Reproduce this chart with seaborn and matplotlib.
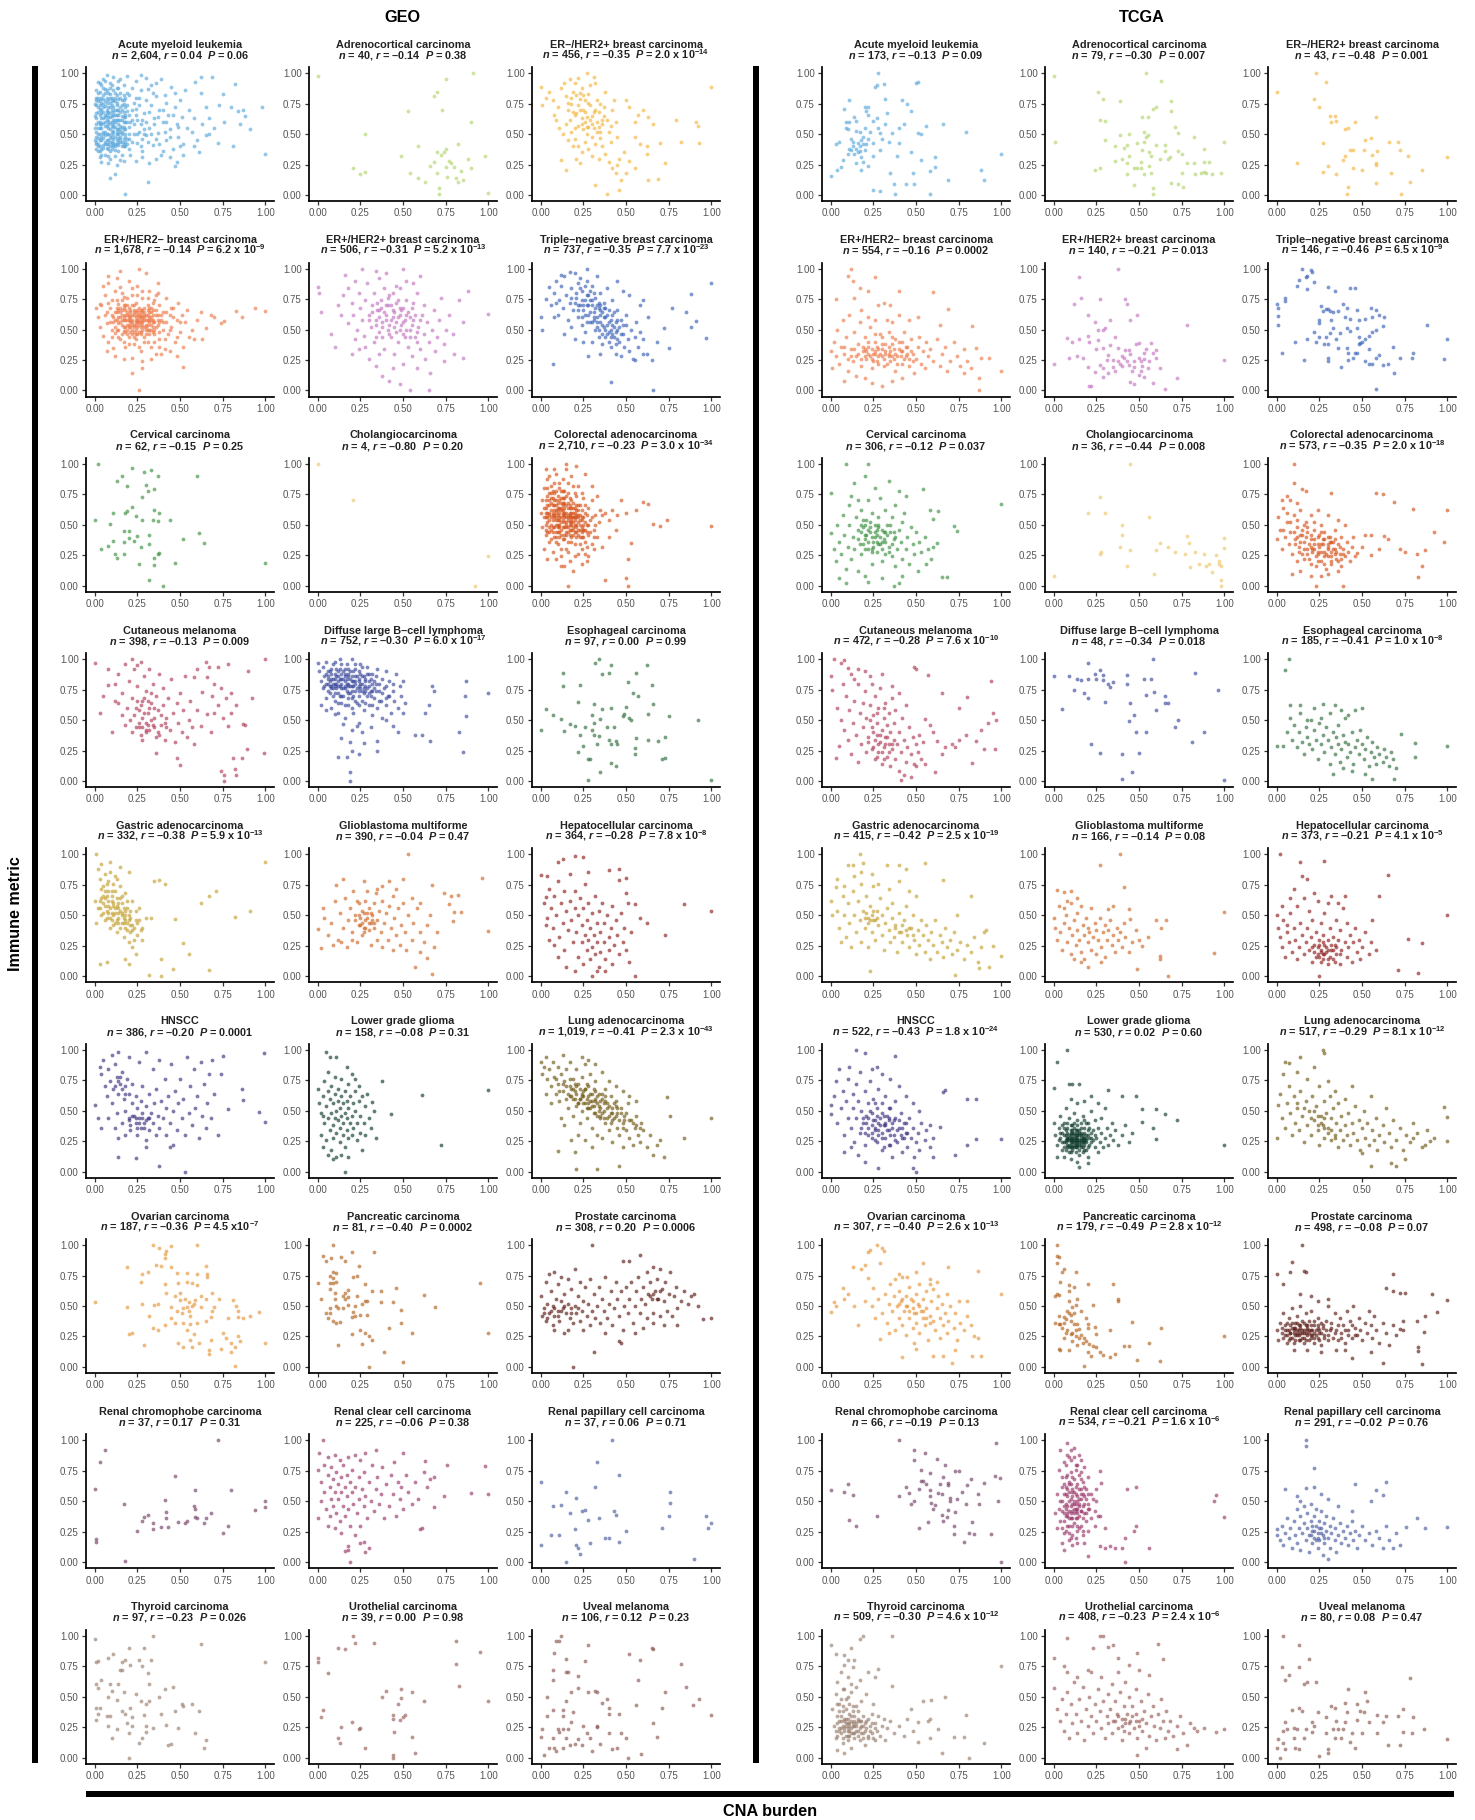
import matplotlib
matplotlib.use("Agg")
import matplotlib.pyplot as plt
from matplotlib.patches import Rectangle
import pandas as pd
import seaborn as sns

# ---------------------------------------------------------------------------
# Data
# ---------------------------------------------------------------------------
cancer_types = [
    "Acute myeloid leukemia", "Adrenocortical carcinoma", "ER–/HER2+ breast carcinoma",
    "ER+/HER2– breast carcinoma", "ER+/HER2+ breast carcinoma", "Triple–negative breast carcinoma",
    "Cervical carcinoma", "Cholangiocarcinoma", "Colorectal adenocarcinoma",
    "Cutaneous melanoma", "Diffuse large B–cell lymphoma", "Esophageal carcinoma",
    "Gastric adenocarcinoma", "Glioblastoma multiforme", "Hepatocellular carcinoma",
    "HNSCC", "Lower grade glioma", "Lung adenocarcinoma",
    "Ovarian carcinoma", "Pancreatic carcinoma", "Prostate carcinoma",
    "Renal chromophobe carcinoma", "Renal clear cell carcinoma", "Renal papillary cell carcinoma",
    "Thyroid carcinoma", "Urothelial carcinoma", "Uveal melanoma",
]

palette = [
    "#5BA8DC", "#B3D46E", "#F4B63F",
    "#EE7A4A", "#C275C0", "#3A62B8",
    "#3E9142", "#EEC86A", "#D6541C",
    "#B03D58", "#3B4A9C", "#2F6E3C",
    "#C3A030", "#D0692A", "#8E1E1E",
    "#3E327E", "#0E3A2C", "#705A15",
    "#E5963A", "#B0621E", "#5A1A14",
    "#744068", "#99386A", "#4A5C9E",
    "#9A7E6E", "#9A5E5A", "#8A5650",
]

geo_n = ["2,604", "40", "456", "1,678", "506", "737", "62", "4", "2,710",
         "398", "752", "97", "332", "390", "364", "386", "158", "1,019",
         "187", "81", "308", "37", "225", "37", "97", "39", "106"]
geo_r = ["0.04", "–0.14", "–0.35", "–0.14", "–0.31", "–0.35", "–0.15", "–0.80", "–0.23",
         "–0.13", "–0.30", "0.00", "–0.38", "–0.04", "–0.28", "–0.20", "–0.08", "–0.41",
         "–0.36", "–0.40", "0.20", "0.17", "–0.06", "0.06", "–0.23", "0.00", "0.12"]
geo_p = ["0.06", "0.38", "2.0 x 10^-14", "6.2 x 10^-9", "5.2 x 10^-13", "7.7 x 10^-23",
         "0.25", "0.20", "3.0 x 10^-34", "0.009", "6.0 x 10^-17", "0.99",
         "5.9 x 10^-13", "0.47", "7.8 x 10^-8", "0.0001", "0.31", "2.3 x 10^-43",
         "4.5 x10^-7", "0.0002", "0.0006", "0.31", "0.38", "0.71", "0.026", "0.98", "0.23"]

tcga_n = ["173", "79", "43", "554", "140", "146", "306", "36", "573",
          "472", "48", "185", "415", "166", "373", "522", "530", "517",
          "307", "179", "498", "66", "534", "291", "509", "408", "80"]
tcga_r = ["–0.13", "–0.30", "–0.48", "–0.16", "–0.21", "–0.46", "–0.12", "–0.44", "–0.35",
          "–0.28", "–0.34", "–0.41", "–0.42", "–0.14", "–0.21", "–0.43", "0.02", "–0.29",
          "–0.40", "–0.49", "–0.08", "–0.19", "–0.21", "–0.02", "–0.30", "–0.23", "0.08"]
tcga_p = ["0.09", "0.007", "0.001", "0.0002", "0.013", "6.5 x 10^-9", "0.037", "0.008",
          "2.0 x 10^-18", "7.6 x 10^-10", "0.018", "1.0 x 10^-8", "2.5 x 10^-19", "0.08",
          "4.1 x 10^-5", "1.8 x 10^-24", "0.60", "8.1 x 10^-12", "2.6 x 10^-13",
          "2.8 x 10^-12", "0.07", "0.13", "1.6 x 10^-6", "0.76", "4.6 x 10^-12",
          "2.4 x 10^-6", "0.47"]

# Samples per panel as "cna,immune" pairs in hundredths
geo_points = [
    # Acute myeloid leukemia
    "1,42 2,55 1,63 3,71 2,80 4,48 3,36 5,59 4,67 6,77 5,88 2,93 7,45 6,52 8,61 7,70 9,83 8,38 10,57 9,49 "
    "11,66 10,74 12,42 11,53 13,62 12,80 14,47 13,70 15,57 14,36 16,65 15,44 17,75 16,52 18,60 17,40 19,69 "
    "18,48 20,56 19,84 3,31 6,33 9,30 12,32 15,29 2,47 4,58 6,64 8,72 10,41 12,60 14,54 16,78 18,66 20,46 "
    "1,74 3,85 5,95 7,99 9,92 11,97 13,88 15,95 17,90 19,98 4,27 8,26 13,25 17,28 21,33 22,62 23,50 24,71 "
    "25,43 26,80 27,58 28,36 29,67 30,49 31,87 32,55 33,74 34,41 35,63 36,92 37,51 38,70 39,33 40,60 41,82 "
    "42,45 43,66 44,54 45,89 46,38 47,72 48,58 49,48 50,78 51,64 52,42 53,86 54,55 22,88 24,94 27,99 30,96 "
    "33,90 36,81 39,95 42,76 24,28 28,31 32,26 36,30 40,36 44,31 48,27 52,33 55,70 57,52 58,63 60,45 62,84 "
    "63,58 65,72 67,50 59,93 62,97 69,97 73,74 75,83 80,72 84,69 88,65 82,91 91,54 67,63 65,49 58,40 61,35 "
    "47,24 31,11 18,1 12,17 9,14 100,34 98,72 70,55 72,43 76,60 85,58 81,40 87,70 2,40 5,52 7,62 9,44 "
    "11,58 13,50 15,68 17,56 19,42 1,52 3,60 5,72 7,80 9,64 11,46 13,76 15,48 17,64 "
    "0,45 0,55 0,65 0,75 1,38 1,58 1,86 2,50 2,68 2,72 2,36 3,45 3,55 3,78 3,66 4,38 4,63 4,80 4,90 5,50 "
    "5,41 5,68 5,79 6,57 6,44 6,73 6,87 7,39 7,50 7,66 7,76 8,45 8,55 8,68 8,84 9,36 9,59 9,76 9,88 10,44 "
    "10,52 10,65 10,80 11,40 11,56 11,72 11,86 12,48 12,66 12,77 13,42 13,54 13,82 14,44 14,58 14,66 14,88 "
    "15,52 15,62 15,80 16,40 16,56 16,70 17,46 17,60 17,82 18,54 18,72 18,40 19,60 19,46 19,74 20,50 20,66 "
    "20,82 1,80 3,92 6,94 10,90 14,94 4,33 8,32 12,37 16,33 20,38 22,44 23,58 24,66 25,50 26,74 27,40 28,62 "
    "29,54 30,78 31,44 32,68 33,50 34,84 35,58 36,46 37,64 38,42 40,70 41,52 42,60 44,48 46,66 47,84 49,56 "
    "50,40 22,70 24,80 26,52 28,46 30,60 21,60 23,76 25,62 27,86 29,50 "
    "1,44 1,48 1,67 1,78 2,42 2,60 2,77 2,84 3,40 3,50 3,58 3,74 4,45 4,55 4,70 4,76 5,39 5,47 5,63 5,75 "
    "5,82 6,42 6,49 6,60 6,66 6,84 7,42 7,57 7,68 7,86 8,42 8,50 8,58 8,64 8,78 9,40 9,47 9,54 9,67 9,72 "
    "9,80 10,38 10,48 10,60 10,70 10,77 11,43 11,50 11,62 11,68 11,78 12,40 12,56 12,62 12,70 12,84 13,45 "
    "13,52 13,66 13,74 14,41 14,50 14,62 14,70 14,79 15,46 15,54 15,72 15,84 16,44 16,50 16,62 16,74 17,42 "
    "17,54 17,68 17,78 18,44 18,50 18,64 18,80",
    # Adrenocortical carcinoma
    "0,98 91,100 75,95 70,85 68,81 73,70 53,69 28,50 90,60 82,42 75,38 74,35 70,35 59,40 49,32 98,32 "
    "77,28 68,27 80,23 90,22 21,22 28,19 25,17 54,18 59,14 63,11 70,18 76,15 82,11 85,12 81,14 71,6 71,1 "
    "100,2 78,26 75,23 72,33 84,20 66,24 88,30",
    # ER-/HER2+ breast carcinoma
    "0,89 1,74 3,80 5,85 7,78 8,66 10,72 12,88 14,92 15,81 16,70 17,62 18,75 19,85 20,92 21,67 22,57 23,79 "
    "24,88 25,70 26,60 27,50 28,83 29,74 30,65 31,55 32,92 33,78 34,68 35,47 36,58 37,72 38,85 39,62 40,52 "
    "41,44 42,70 43,78 44,60 45,48 18,52 20,46 22,40 24,35 26,44 28,38 30,32 32,42 34,30 36,40 38,34 40,27 "
    "42,22 44,18 45,25 46,30 13,50 15,58 16,45 19,40 21,30 23,26 12,29 15,21 25,54 27,64 29,90 31,97 27,100 "
    "22,96 17,95 23,84 11,55 9,62 50,78 52,72 55,60 57,66 60,70 63,64 66,58 55,48 58,42 62,40 49,35 52,28 "
    "47,12 46,4 39,1 32,8 100,89 79,62 91,60 92,57 93,43 82,44 70,43 73,26 62,34 69,13 63,12 55,22 50,18 "
    "35,75 20,55 26,78 33,60 21,82 30,48 37,65 24,63 28,56 19,68 35,52 41,57 16,76 "
    "18,80 20,66 22,74 24,58 26,68 28,76 30,58 32,70 34,56 36,62 25,82 29,62 23,70 27,56 31,68 33,52",
    # ER+/HER2- breast carcinoma
    "2,60 3,52 4,70 5,45 6,78 6,62 7,55 8,88 8,40 9,68 10,50 10,74 11,60 11,35 12,82 12,47 13,64 13,92 "
    "14,55 14,71 15,42 15,85 16,58 16,66 17,49 17,77 18,36 18,62 19,54 19,70 20,90 20,44 21,58 21,66 22,50 "
    "22,78 23,38 23,62 24,54 24,72 25,46 25,86 26,60 26,68 27,32 27,52 28,76 28,58 29,44 29,64 30,96 30,54 "
    "31,70 31,40 32,60 32,82 33,50 33,36 34,66 34,56 35,74 35,46 36,62 36,30 37,54 37,88 38,42 38,70 39,58 "
    "40,50 40,64 41,34 42,76 42,56 43,46 44,62 45,52 46,68 47,40 48,58 49,72 50,48 51,62 52,36 53,56 54,66 "
    "55,44 12,52 18,48 22,56 26,54 30,62 34,52 24,64 20,60 28,50 16,74 32,68 24,42 10,62 36,78 15,98 8,94 "
    "5,86 26,100 3,71 1,68 7,32 12,28 17,26 22,27 28,24 33,26 39,30 44,32 48,28 57,50 60,58 62,64 58,42 "
    "100,65 94,68 83,65 76,57 74,55 70,60 65,51 63,42 52,19 28,18 26,0 22,14 68,62 86,60 19,58 23,66 27,60 "
    "21,52 25,56 29,58 31,50 17,68 13,58 33,64 "
    "11,56 12,64 13,50 14,60 15,68 16,54 17,60 18,70 19,50 20,58 21,64 22,46 23,70 24,58 25,62 26,48 27,66 "
    "28,54 29,60 30,46 31,58 32,64 33,54 34,62 35,50 36,66 37,58 38,48 39,62 40,56 14,44 17,40 20,38 23,44 "
    "26,36 29,40 32,46 35,40 38,36 13,74 16,80 19,76 22,84 25,78 28,82 31,76 34,72 37,80 18,58 20,52 22,62 "
    "24,50 26,62 28,66 30,52 32,56 34,48 21,56 23,52 25,58 27,56 29,62 19,64 17,52 15,60 33,58 31,66 27,46 "
    "23,48 9,56 10,44 8,72 7,64 41,42 42,64 44,50 46,60 48,44 50,56 45,68 "
    "12,58 13,68 14,50 14,66 15,56 15,64 16,46 16,62 17,58 17,70 18,52 18,66 19,46 19,62 20,54 20,68 21,48 "
    "21,60 22,58 22,70 23,54 23,64 24,46 24,60 25,52 25,66 26,56 26,64 27,48 27,62 28,56 28,64 29,52 29,68 "
    "30,50 30,58 31,54 31,62 32,50 32,58 33,60 33,68 34,58 35,56 36,52 37,62 38,56 24,56 26,58 22,54 20,62 "
    "28,60",
    # ER+/HER2+ breast carcinoma
    "0,85 1,80 2,64 8,46 10,36 16,95 26,100 50,100 88,82 83,74 100,63 85,56 85,27 74,24 65,0 54,0 48,5 "
    "12,70 14,62 15,78 18,84 18,55 20,72 21,62 22,90 23,50 24,80 25,68 26,58 27,45 28,74 29,88 30,62 31,52 "
    "32,70 33,40 33,80 34,58 35,66 36,48 36,92 37,74 38,56 39,34 39,84 40,62 41,50 41,70 42,78 43,44 43,58 "
    "44,66 45,30 45,52 46,72 47,60 47,40 48,50 48,84 49,66 50,56 50,22 51,44 52,62 52,74 53,36 54,50 55,28 "
    "55,68 56,58 57,44 58,80 58,18 59,52 60,34 61,62 62,70 62,46 63,26 64,56 65,40 66,14 67,50 68,66 69,32 "
    "70,44 71,58 72,76 74,38 75,50 77,62 79,46 80,30 30,26 34,20 38,12 42,8 44,18 36,30 24,34 22,42 20,30 "
    "28,36 46,86 52,90 56,88 60,94 40,96 34,98 "
    "30,58 32,64 34,54 35,72 36,60 37,68 38,52 39,64 40,58 41,76 42,54 43,70 44,60 45,64 46,56 47,74 48,62 "
    "49,54 50,68 51,58 52,50 53,64 54,60 55,54 56,72 57,62 58,48 60,58 38,44 42,46 46,48 50,46 54,44 58,40 "
    "44,80 40,70 36,66 34,44 48,68",
    # Triple-negative breast carcinoma
    "0,60 1,50 7,22 3,75 5,85 6,70 8,80 9,90 10,62 11,74 12,86 13,68 14,94 15,78 16,58 17,72 18,84 19,66 "
    "20,96 21,76 22,60 22,88 23,70 24,54 24,82 25,66 26,74 26,48 27,90 28,62 28,78 29,56 30,70 30,86 31,64 "
    "32,50 32,76 33,60 33,94 34,68 34,44 35,56 35,80 36,64 36,38 37,52 37,72 38,60 39,46 39,84 40,56 40,66 "
    "41,36 41,50 42,62 42,74 43,44 44,56 44,30 45,50 45,66 46,40 47,58 47,28 48,46 49,36 50,54 50,62 51,42 "
    "52,32 53,50 54,26 55,44 56,56 57,36 58,48 60,42 62,30 55,25 41,7 65,25 66,0 75,35 68,40 72,51 77,68 "
    "88,79 100,88 85,64 91,57 88,52 97,43 60,30 18,52 14,46 25,40 20,42 30,40 28,28 35,30 23,92 27,100 "
    "17,97 12,95 9,72 8,60 63,60 58,70 52,78 60,74 48,82 45,90 27,70 31,58 35,66 29,74 33,52 38,68 "
    "18,76 20,72 21,80 22,66 23,84 24,74 25,70 26,62 27,78 28,70 29,64 30,74 31,60 32,68 33,56 34,72 35,62 "
    "36,54 37,68 38,50 39,62 40,48 41,58 42,54 43,64 44,48 45,58 46,52 47,46 48,54 26,86 29,82 31,80 33,70 "
    "35,70 37,60 39,54 41,44 43,52 45,42 24,60 22,70 27,56 30,56 34,50 36,46 38,44 40,40 42,46 44,38",
    # Cervical carcinoma
    "2,100 22,97 29,93 33,95 37,90 16,90 13,86 60,90 19,82 30,83 35,79 31,78 28,73 22,65 19,61 18,60 11,60 "
    "24,57 35,62 38,60 44,54 34,54 37,53 28,54 0,54 9,51 20,45 17,45 25,41 32,42 61,43 52,38 64,35 11,37 "
    "17,36 23,37 32,34 8,33 4,30 38,27 37,26 12,26 13,23 17,26 35,23 26,18 35,17 47,19 100,19 32,5 40,0 "
    "20,39 27,32",
    # Cholangiocarcinoma
    "0,100 21,70 100,24 92,0",
    # Colorectal adenocarcinoma
    "0,60 1,48 1,70 2,56 2,80 3,42 3,64 4,52 4,74 4,88 5,36 5,60 6,46 6,68 6,82 7,54 7,28 8,62 8,76 8,40 "
    "9,50 9,70 9,92 10,58 10,34 11,64 11,80 11,44 12,52 12,72 12,24 13,60 13,88 13,38 14,48 14,68 14,78 "
    "15,56 15,30 15,96 16,44 16,64 16,84 17,52 17,72 17,20 18,40 18,60 18,90 19,48 19,68 20,56 20,34 20,76 "
    "21,44 21,62 22,52 22,82 22,26 23,40 23,66 24,56 24,30 25,46 25,72 26,60 26,36 27,50 27,20 28,64 28,42 "
    "29,54 30,34 30,70 31,46 32,58 33,40 34,52 35,62 15,100 21,98 26,92 30,82 33,74 3,96 5,90 8,96 14,16 "
    "19,12 24,18 28,24 31,30 2,30 4,22 9,22 12,16 36,58 38,60 40,54 42,62 45,58 47,70 50,60 56,62 60,69 "
    "63,67 66,51 70,49 74,54 100,49 53,35 51,22 50,6 51,0 38,5 16,0 40,40 36,32 44,46 5,66 7,58 9,62 11,54 "
    "13,66 15,50 17,60 19,56 21,50 23,58 10,48 14,58 18,52 12,62 16,56 "
    "3,50 4,60 4,44 5,70 5,54 6,62 6,38 7,48 7,72 8,56 8,66 9,44 9,60 10,68 10,50 11,56 11,40 12,64 12,46 "
    "13,54 13,72 14,42 14,60 15,66 15,48 16,58 16,36 17,64 17,46 18,54 18,70 19,42 19,60 20,50 20,64 21,56 "
    "21,40 22,46 22,66 23,54 23,34 24,48 24,62 25,40 25,56 26,46 26,66 27,58 27,32 28,50 29,44 30,56 31,40 "
    "32,50 11,84 13,78 16,76 19,82 8,84 6,76 21,74 24,76 12,30 16,28 20,24 24,40 26,26 9,36 5,44 3,56 2,64 "
    "18,46 14,52 10,62 22,58 17,56 13,58 11,48 15,44 19,52 7,66 9,54 21,66 25,50 "
    "3,46 3,60 3,70 4,56 4,66 4,80 5,48 5,58 5,76 6,50 6,56 6,72 7,44 7,60 7,78 8,48 8,58 8,70 9,40 9,56 "
    "9,66 9,78 10,44 10,54 10,64 10,74 11,50 11,60 11,70 12,42 12,56 12,68 12,78 13,48 13,62 13,68 14,38 "
    "14,56 14,64 14,72 15,42 15,52 15,60 15,74 16,48 16,54 16,68 17,42 17,50 17,58 17,66 18,36 18,50 18,56 "
    "18,64 19,46 19,56 19,64 20,44 20,54 20,60 21,48 21,58 22,42 22,56 22,62 23,46 23,50 24,44 24,54 25,46 "
    "26,52 27,44",
    # Cutaneous melanoma
    "0,97 100,100 99,23 89,26 86,19 81,19 82,10 76,5 76,0 83,5 74,8 50,13 48,19 36,23 10,40 3,56 5,70 8,79 "
    "8,92 90,90 78,96 72,94 67,94 92,68 87,47 88,46 66,85 70,80 74,76 69,70 77,68 80,72 83,62 72,62 66,55 "
    "70,56 75,52 80,56 78,45 68,40 62,45 60,58 63,73 58,85 60,92 65,98 14,88 16,72 18,96 19,60 20,82 21,50 "
    "22,68 23,92 24,44 25,78 26,58 27,38 27,98 28,66 29,86 30,48 30,74 31,56 32,42 32,92 33,64 34,80 35,52 "
    "36,36 36,70 37,58 38,88 39,46 40,62 40,76 41,34 42,52 43,68 44,42 45,84 46,56 47,32 48,64 49,48 50,72 "
    "51,40 52,58 53,86 54,36 55,50 56,66 57,44 58,30 24,60 26,44 28,52 30,40 32,60 34,46 22,40 18,46 16,54 "
    "12,66 12,80 14,64 38,38 42,44 25,95 22,100 28,34 "
    "26,48 28,44 29,56 31,46 33,50 35,44 37,40 27,62 31,66 33,72 29,68 35,60 39,54 41,48 25,66 23,54 30,42",
    # Diffuse large B-cell lymphoma
    "0,97 1,90 2,82 3,94 3,76 4,86 5,68 5,98 6,80 7,90 7,72 8,84 8,60 9,96 9,76 10,88 10,66 11,80 11,92 "
    "12,72 12,56 13,84 13,100 14,76 14,64 15,90 15,70 16,82 16,52 17,96 17,74 18,86 18,62 19,78 19,90 20,68 "
    "20,100 21,82 21,56 22,74 22,92 23,64 24,84 24,48 25,76 25,96 26,66 27,86 27,58 28,78 29,70 29,94 30,62 "
    "30,82 31,74 32,88 32,54 33,68 34,80 35,60 35,92 36,74 37,66 38,84 38,52 39,76 40,62 40,90 41,70 42,82 "
    "43,56 44,74 45,66 46,88 47,60 48,78 49,70 50,82 50,56 51,64 20,42 23,45 26,40 31,44 15,47 10,55 5,58 "
    "2,62 100,72 87,82 86,70 87,53 83,40 85,24 67,78 68,74 65,62 63,56 66,33 61,38 57,38 47,40 35,25 19,0 "
    "19,7 24,22 20,25 12,20 17,20 14,35 19,32 27,31 35,33 40,50 44,45 6,86 10,80 14,84 18,78 22,82 12,90 "
    "16,88 8,78 20,74 24,90 "
    "4,78 5,88 6,74 7,82 8,92 9,70 9,84 10,78 11,86 12,82 13,70 13,92 14,80 15,84 16,76 16,92 17,80 18,88 "
    "18,72 19,84 20,78 21,90 21,70 22,80 23,86 24,70 24,78 25,88 26,80 27,72 28,84 29,76 30,88 31,70 32,80 "
    "33,76 34,86 36,80 38,72 40,78 42,70 44,80 12,64 16,62 20,60 24,62 28,64 32,62 14,70 18,68 22,66 26,74 "
    "30,72 10,72 6,90 8,76 36,66 40,68 "
    "5,80 6,84 7,78 8,88 9,80 10,84 11,76 12,86 13,78 14,88 15,76 16,86 17,84 18,80 19,72 20,86 21,78 22,86 "
    "23,76 24,82 25,80 26,86 27,76 28,82 29,88 30,78 31,84 32,74 33,82 34,74 12,78 16,78 20,82 24,74 28,74 "
    "18,92 22,96 14,96 10,98 26,94",
    # Esophageal carcinoma
    "0,42 34,100 32,97 36,88 41,95 40,89 62,95 56,89 13,89 13,78 23,79 51,81 65,79 54,72 57,70 22,65 31,63 "
    "36,59 41,60 50,61 66,63 3,59 7,54 12,51 30,54 35,51 31,48 49,55 52,52 53,50 48,53 63,55 75,53 92,50 "
    "43,44 17,47 20,45 14,41 23,38 31,38 34,37 40,34 44,33 45,30 41,30 56,35 63,34 69,33 73,36 25,29 55,27 "
    "55,22 22,24 29,18 28,18 71,18 73,19 41,15 44,12 35,7 28,1 100,1 26,44 33,30 39,44 30,42",
    # Gastric adenocarcinoma
    "1,100 2,88 3,80 4,92 5,74 6,84 7,66 8,78 9,94 10,70 11,58 12,82 13,64 14,52 15,74 16,60 17,44 18,68 "
    "19,56 20,86 21,48 22,62 23,40 24,54 25,34 26,46 27,38 28,30 2,56 3,62 4,50 5,60 6,46 7,54 8,58 9,48 "
    "10,62 11,42 12,56 13,36 14,48 15,40 16,52 17,32 18,46 19,38 20,28 21,36 22,24 23,30 24,18 25,44 18,14 "
    "20,10 4,72 6,64 8,70 10,52 12,44 14,60 16,66 18,54 20,50 22,42 24,46 26,56 28,40 30,48 3,10 7,12 "
    "100,94 91,54 82,49 71,70 67,66 62,60 67,5 55,18 52,27 47,47 35,78 38,79 41,76 33,48 39,14 46,6 32,1 "
    "39,0 1,44 0,62 13,80 9,86 15,90 11,76 "
    "3,56 4,64 5,52 6,58 6,70 7,48 8,62 9,56 10,66 10,46 11,60 12,52 12,70 13,58 14,44 15,64 16,50 17,56 "
    "18,40 19,62 20,46 21,54 22,38 5,66 7,76 9,40 11,50 13,46 15,54 17,48 19,44 21,42 8,52 14,56 16,44 18,50",
    # Glioblastoma multiforme
    "53,100 96,81 50,80 67,75 74,68 78,66 82,67 80,53 84,53 77,59 100,37 79,45 67,2 57,8 64,15 60,20 3,56 "
    "0,39 2,23 11,75 15,80 27,78 35,72 4,48 6,34 8,44 10,62 12,30 13,52 15,40 16,64 17,24 18,46 19,56 20,36 "
    "21,70 22,50 23,28 24,42 24,60 25,48 26,54 26,34 27,40 28,62 28,46 29,52 30,38 30,56 31,44 31,26 32,50 "
    "33,60 33,40 34,68 35,30 35,46 36,54 37,36 38,62 38,24 39,44 40,52 41,30 42,58 43,40 44,22 44,66 45,48 "
    "46,34 47,56 48,26 49,42 50,60 51,36 52,22 53,50 55,30 56,44 58,56 60,36 62,28 64,42 66,50 68,24 70,36 "
    "20,30 14,28 9,26 23,62 29,70 38,74 42,78 46,72 55,64 60,60 "
    "24,50 26,44 27,52 28,40 29,48 30,44 31,52 32,46 22,46 25,42 33,44 27,36",
    # Hepatocellular carcinoma
    "84,59 100,54 73,34 62,44 58,48 55,59 50,68 46,88 50,81 46,79 40,87 28,86 25,98 20,99 10,94 13,96 0,83 "
    "4,82 3,65 55,0 30,0 2,60 4,48 5,72 6,56 7,40 8,66 9,50 10,78 11,32 12,60 13,44 14,70 14,22 15,54 16,38 "
    "17,62 17,84 18,46 19,28 20,56 20,70 21,36 22,50 22,16 23,64 24,42 24,28 25,56 25,10 26,34 26,76 27,46 "
    "27,22 28,60 28,30 29,40 29,14 30,52 30,24 31,34 32,66 32,18 33,44 33,28 34,54 34,8 35,36 35,20 36,60 "
    "37,28 37,44 38,14 39,50 40,32 40,22 41,40 42,58 42,10 43,26 44,46 45,34 46,18 47,52 48,28 49,40 50,22 "
    "51,60 52,12 53,36 10,16 8,26 5,30 3,42 15,8 20,4 33,4 38,4",
    # HNSCC
    "99,97 100,41 96,49 87,59 86,68 78,51 74,80 69,92 75,95 53,0 38,5 24,11 14,12 4,36 0,55 2,44 3,86 4,80 "
    "5,92 6,70 7,62 8,84 9,74 10,96 10,56 11,68 12,88 13,78 13,48 14,64 15,72 16,82 16,40 17,60 18,70 18,50 "
    "19,76 20,44 20,64 21,34 22,56 22,72 23,46 24,40 24,62 25,52 25,30 26,44 27,36 27,58 28,48 28,70 29,40 "
    "30,54 30,26 31,44 32,64 32,34 33,48 34,84 34,40 35,56 36,30 36,68 37,46 38,92 38,36 39,58 40,44 41,76 "
    "42,30 42,52 43,62 44,40 45,88 46,50 46,22 47,66 48,34 49,56 50,76 51,44 52,60 53,30 54,94 55,48 56,70 "
    "57,38 58,84 59,52 60,62 61,28 62,90 63,46 64,72 65,36 66,56 67,80 68,44 70,64 72,30 18,30 12,36 8,44 "
    "14,28 30,20 44,20 26,90 20,94 14,98 30,98 "
    "20,42 22,46 24,44 26,40 28,44 30,42 32,44 21,38 25,36 29,36 12,70 14,74 16,68 18,64 15,78",
    # Lower grade glioma
    "100,67 61,63 72,22 43,47 38,74 32,57 17,86 5,98 7,94 11,94 16,0 0,68 1,56 2,48 2,30 3,62 3,20 4,74 "
    "4,40 5,54 5,26 6,82 6,44 6,14 7,60 7,34 8,48 8,70 8,18 9,38 9,56 9,28 10,64 10,44 10,78 11,50 11,32 "
    "11,12 12,58 12,42 12,68 13,36 13,52 13,24 14,46 14,62 14,76 15,40 15,56 15,30 16,48 16,66 16,20 17,44 "
    "17,58 17,34 18,52 18,72 18,28 19,40 19,62 20,46 20,30 20,80 21,56 21,36 22,50 22,66 23,40 23,26 24,58 "
    "25,46 25,32 26,62 27,40 28,54 28,30 29,64 30,44 31,36 33,50 34,28 22,76 24,70 26,18 18,12 14,14 9,10 "
    "6,66 3,46",
    # Lung adenocarcinoma
    "0,90 1,80 2,86 3,94 4,76 5,84 6,70 7,90 8,78 9,64 10,86 10,72 11,58 12,80 13,66 13,96 14,74 15,60 "
    "15,84 16,52 17,70 17,90 18,62 19,76 19,46 20,66 21,84 21,54 22,72 23,60 23,40 24,78 24,50 25,66 26,56 "
    "26,88 27,44 27,72 28,62 29,52 29,80 30,58 30,36 31,68 32,48 32,74 33,56 33,30 34,64 35,44 35,52 36,60 "
    "36,28 37,50 38,40 38,68 39,56 40,34 40,46 41,62 42,52 42,24 43,44 44,58 45,36 45,48 46,30 47,52 48,40 "
    "48,20 49,46 50,34 51,56 52,28 53,42 54,22 55,36 56,46 57,30 58,24 59,40 60,34 62,20 64,30 66,14 68,22 "
    "70,26 72,12 32,88 28,92 24,94 36,82 40,74 44,70 48,66 52,62 56,58 22,30 18,26 14,38 12,44 26,26 30,20 "
    "20,16 100,44 84,28 74,61 76,46 46,5 33,2 21,2 10,17 6,56 3,64 20,60 24,64 28,56 32,60 26,68 22,56 "
    "30,64 34,54 38,58 42,48 "
    "15,70 16,64 17,76 18,68 19,60 20,72 21,64 22,56 23,68 24,62 25,56 26,68 27,60 28,52 29,64 30,54 31,48 "
    "32,58 33,62 34,50 35,58 36,48 37,56 38,62 39,44 40,54 41,48 42,42 43,56 44,46 45,52 46,42 47,48 48,36 "
    "49,42 50,48 27,52 29,58 31,54 33,46 25,62 23,60 21,70 19,68 35,46 37,44 39,52 41,40 17,62 13,72 11,66 "
    "9,76 52,42 54,40 56,38 58,36 44,54 36,64 32,66 28,70",
    # Ovarian carcinoma
    "0,53 19,82 19,49 20,27 22,28 29,18 34,100 38,98 45,99 60,100 41,93 42,95 41,89 36,84 28,76 31,78 27,70 "
    "39,83 48,77 45,82 54,77 60,76 66,76 65,83 66,74 49,69 54,70 57,69 60,67 41,68 42,61 47,58 50,55 54,49 "
    "55,53 59,55 62,58 65,56 69,46 70,49 73,56 81,55 83,50 84,46 91,42 96,45 87,40 84,41 78,40 68,41 65,38 "
    "60,36 56,35 52,36 47,36 41,34 37,30 34,32 32,42 35,51 37,52 28,52 54,30 58,27 56,22 61,20 68,22 75,28 "
    "77,24 80,20 84,25 85,21 82,16 80,12 74,15 67,11 67,14 49,20 52,16 57,16 82,1 100,20 45,49 50,61 45,40 "
    "62,49 69,61 56,42 48,46 52,48 55,46 58,52 53,56 57,50 51,44",
    # Pancreatic carcinoma
    "9,100 3,91 5,87 8,89 14,90 20,94 33,94 16,87 24,83 9,78 11,77 7,75 9,73 21,74 23,75 0,69 7,69 9,69 "
    "11,70 7,64 10,61 28,68 37,62 46,65 95,69 62,59 16,61 15,58 16,56 18,57 23,58 18,63 32,62 2,56 10,56 "
    "28,54 26,52 29,54 18,51 22,50 37,53 44,53 11,50 7,48 12,48 15,48 49,47 69,49 21,45 7,44 5,44 25,43 "
    "29,43 20,41 6,40 9,38 22,42 49,36 100,28 11,36 13,37 42,32 25,30 55,28 28,28 30,25 32,22 12,18 39,12 "
    "50,4 30,0 26,19 20,27",
    # Prostate carcinoma
    "30,100 58,92 48,87 52,87 31,12 19,0 95,39 100,40 46,21 47,20 0,58 1,42 2,48 3,70 3,38 4,52 5,76 5,44 "
    "6,62 7,50 7,34 8,78 8,42 9,56 10,46 10,68 11,38 12,54 12,74 13,48 14,60 14,28 15,44 16,52 16,72 17,40 "
    "18,48 18,64 19,36 20,50 20,80 21,44 22,58 23,38 23,70 24,46 25,54 25,30 26,66 27,42 28,52 29,72 29,34 "
    "30,46 31,60 32,40 33,50 34,66 35,36 36,56 37,46 38,74 39,40 40,52 41,62 42,34 43,48 44,70 45,56 46,42 "
    "47,62 48,30 49,50 50,66 51,44 52,56 53,70 54,36 55,50 56,62 57,74 58,44 59,56 60,66 61,52 62,78 62,40 "
    "63,60 64,70 65,56 66,82 66,44 67,62 68,72 69,56 70,80 70,42 71,64 72,54 73,70 74,46 75,60 76,78 77,42 "
    "78,58 79,66 80,48 82,54 84,62 86,52 88,58 90,60 92,50 60,32 66,36 72,34 80,34 16,30 8,30 38,28 55,28 "
    "2,44 4,40 6,46 8,48 10,42 12,46 14,50 18,44 22,48 64,58 66,60 68,56 70,62",
    # Renal chromophobe carcinoma
    "0,60 3,82 6,92 1,19 1,17 17,48 18,1 25,26 28,34 29,37 31,39 34,32 34,27 39,29 42,41 42,36 41,51 43,29 "
    "47,71 49,33 53,32 54,34 58,46 59,37 59,59 60,36 64,32 65,36 68,40 72,100 75,24 78,30 80,59 94,43 "
    "100,50 100,45 59,44",
    # Renal clear cell carcinoma
    "98,79 100,56 90,57 76,80 74,54 68,45 60,27 61,28 50,90 63,83 19,0 18,10 16,9 18,13 28,8 27,17 30,12 "
    "0,36 0,76 1,90 2,66 2,50 3,100 4,80 4,58 5,44 6,72 6,86 7,62 7,38 8,52 8,78 9,68 9,46 10,88 10,58 "
    "11,74 11,40 12,64 12,52 13,84 13,34 14,70 14,58 15,46 15,80 16,62 16,38 17,72 17,54 18,86 18,44 19,66 "
    "19,30 20,58 20,76 21,48 22,88 22,62 23,40 24,70 24,52 25,84 25,30 26,60 27,46 27,74 28,90 28,54 29,36 "
    "30,66 31,50 32,80 33,42 34,92 34,60 35,70 36,48 37,56 38,78 39,36 40,64 42,46 43,72 44,56 45,82 46,38 "
    "47,66 48,52 49,62 50,44 52,72 53,58 55,48 57,66 59,52 62,74 64,62 66,68 68,70 22,22 25,16 14,24 "
    "10,28 6,30",
    # Renal papillary cell carcinoma
    "0,66 0,14 6,22 11,22 7,46 12,47 15,58 15,0 17,40 21,53 20,27 21,14 22,12 23,7 24,42 26,43 28,35 29,16 "
    "32,62 33,82 34,36 38,20 40,20 42,100 43,42 44,39 46,72 46,17 50,26 71,28 75,38 76,49 76,58 90,3 97,38 "
    "98,28 100,32",
    # Thyroid carcinoma
    "0,97 1,78 2,79 1,60 2,57 1,41 2,36 1,31 3,41 4,64 8,50 7,34 8,26 8,82 9,60 10,55 11,85 10,16 13,47 "
    "13,23 14,60 15,72 16,72 16,78 18,80 16,38 18,36 19,28 20,90 21,76 21,41 20,0 20,20 22,33 22,26 24,52 "
    "26,80 26,12 27,46 28,75 28,16 29,90 29,35 30,26 30,44 31,69 32,60 32,46 33,80 34,100 34,24 30,21 38,50 "
    "39,36 41,56 42,27 43,10 45,11 46,58 47,38 49,24 51,44 52,42 57,44 59,20 61,38 62,93 64,8 65,14 100,78 "
    "9,34 17,54",
    # Urothelial carcinoma
    "0,82 0,78 6,69 12,90 16,89 21,100 22,94 33,94 3,39 2,33 14,25 12,16 13,12 20,29 24,23 25,24 28,8 38,50 "
    "40,55 44,35 44,32 45,21 44,2 44,0 47,44 48,31 50,33 49,56 49,49 51,35 55,54 55,17 57,4 62,46 81,96 "
    "81,77 83,59 95,87 100,46",
    # Uveal melanoma
    "0,17 1,23 2,2 4,50 4,34 5,8 7,72 7,16 7,64 8,8 8,86 9,5 10,23 11,21 9,96 11,96 12,100 13,34 13,8 13,39 "
    "13,23 15,81 15,70 16,70 15,46 16,23 15,16 17,10 18,54 19,37 20,11 22,67 22,57 22,15 24,10 25,26 26,79 "
    "27,20 28,92 28,54 29,16 32,55 33,54 33,26 30,5 35,11 36,45 39,48 40,41 40,36 42,7 45,8 46,36 47,20 "
    "50,16 51,0 52,85 56,43 57,64 58,80 59,3 65,90 66,89 66,28 68,17 71,41 73,54 82,77 85,58 89,43 93,48 "
    "100,35 40,20 18,29 7,39 33,25",
]

tcga_points = [
    # Acute myeloid leukemia
    "0,16 3,42 5,44 4,21 6,23 8,71 11,78 9,60 11,60 9,55 10,54 12,37 14,34 12,46 16,43 14,64 15,53 17,52 "
    "16,35 18,31 19,27 20,72 21,69 22,72 22,66 19,48 22,46 20,55 23,52 20,37 22,24 18,21 25,4 26,89 27,90 "
    "28,100 31,91 25,61 27,63 28,55 29,51 30,46 29,37 29,3 25,32 32,79 33,67 34,44 35,18 37,9 38,1 39,32 "
    "40,55 42,78 43,58 44,9 45,75 47,69 47,35 48,18 49,9 50,92 51,93 51,51 53,29 53,50 56,57 58,20 58,1 "
    "61,31 61,23 66,58 69,12 79,52 88,21 90,12 100,34 7,29 15,26 10,34 17,40 25,43 15,61 32,58 36,51 40,43 "
    "13,40 15,38 17,36 19,42 13,44 11,38 18,45 21,42",
    # Adrenocortical carcinoma
    "0,98 1,44 26,85 29,79 27,62 30,61 39,77 54,100 63,94 24,21 27,22 30,45 36,28 40,30 41,39 43,41 44,32 "
    "43,17 47,8 47,22 49,22 51,22 43,26 44,50 52,64 53,52 54,48 55,49 55,64 53,44 52,37 53,17 56,35 57,32 "
    "58,6 58,1 58,71 60,72 57,18 65,41 65,36 69,10 69,77 69,69 71,56 73,9 73,51 73,36 75,34 75,18 76,7 "
    "78,26 82,48 82,26 83,17 86,18 88,19 88,38 88,27 91,27 93,17 98,18 100,44 67,30 62,30 56,24 51,27 "
    "49,43 39,49 36,40 89,18 68,31 60,41",
    # ER-/HER2+ breast carcinoma
    "0,85 12,26 22,79 23,100 25,72 29,93 27,43 31,65 34,65 32,60 35,61 27,19 35,17 40,54 42,55 39,29 40,32 "
    "43,37 45,37 46,60 42,7 41,1 45,22 50,21 51,37 52,45 55,47 56,33 58,64 59,36 58,26 58,25 58,10 66,44 "
    "67,18 71,44 72,37 73,1 77,32 78,11 85,21 100,31 30,24",
    # ER+/HER2- breast carcinoma
    "12,100 10,94 13,90 26,93 17,84 22,82 40,82 60,81 3,75 14,76 28,70 31,72 35,70 69,67 83,53 64,54 51,60 "
    "85,35 88,27 93,27 100,16 87,0 87,10 78,14 0,32 1,18 2,40 3,28 4,50 5,22 6,36 7,58 8,30 9,44 10,16 "
    "11,62 12,34 13,24 14,48 15,28 16,38 17,56 18,20 19,32 20,44 21,26 22,36 23,52 24,18 25,30 26,40 27,24 "
    "28,34 29,46 30,28 31,20 32,38 33,58 34,30 35,24 36,44 37,34 38,16 39,28 40,40 41,32 42,22 43,48 44,28 "
    "45,36 46,20 47,42 48,30 49,14 50,26 51,36 52,44 53,22 54,32 55,18 56,40 57,28 58,34 60,24 62,42 64,20 "
    "65,30 67,36 68,16 70,24 72,40 74,28 76,20 78,34 80,24 82,18 22,60 18,66 26,58 36,56 40,62 46,58 24,6 "
    "30,4 36,8 42,10 20,10 15,12 8,8 30,38 26,32 32,30 34,36 28,28 24,26 20,34 36,28 22,30 "
    "16,30 18,26 19,36 20,28 21,32 22,40 23,28 24,34 25,24 26,30 27,36 28,22 29,30 30,34 31,26 32,32 33,22 "
    "34,28 35,32 36,38 37,26 38,30 39,22 40,34 41,28 42,32 43,26 44,36 45,30 46,26 47,32 48,24 14,34 12,28 "
    "10,26 8,36 26,46 30,44 34,48 38,42 42,40",
    # ER+/HER2+ breast carcinoma
    "38,100 15,93 27,75 16,76 12,71 42,75 43,71 20,62 24,56 33,58 30,51 29,50 26,50 49,62 45,58 78,54 "
    "100,25 0,22 8,43 11,40 15,42 20,45 21,40 25,34 26,41 29,35 33,37 32,29 36,44 38,35 9,27 14,28 17,27 "
    "20,19 21,4 22,4 24,15 27,21 29,11 32,14 35,25 35,19 36,16 38,24 40,28 40,20 41,27 42,33 43,24 44,21 "
    "45,30 45,7 46,16 47,24 47,19 48,38 50,13 50,27 51,24 51,16 52,20 53,31 53,26 54,34 55,18 56,24 57,39 "
    "58,31 58,6 60,33 60,27 62,18 65,1 72,10 53,11 47,5 44,33 50,39 39,22 31,25 29,18",
    # Triple-negative breast carcinoma
    "0,71 1,68 5,73 5,76 1,54 3,31 1,61 12,86 13,91 15,100 17,93 18,94 20,99 21,97 22,89 18,83 30,85 34,82 "
    "43,84 46,84 11,40 16,25 18,42 22,48 25,58 25,55 26,69 27,65 29,67 30,67 31,65 33,64 36,65 39,71 41,68 "
    "43,59 47,66 52,59 55,68 56,60 58,66 60,62 63,60 62,53 58,50 56,48 54,45 52,42 50,40 48,44 47,51 43,49 "
    "41,51 37,47 33,51 31,47 29,44 28,38 30,38 30,27 30,24 35,42 36,35 41,35 42,31 45,27 46,31 48,38 49,39 "
    "52,24 54,22 56,22 58,27 60,29 62,21 65,22 69,14 68,36 72,27 79,27 80,31 88,54 98,26 100,42 58,1 38,19 "
    "42,25 47,31 25,44 23,40 32,58 54,34 48,58 40,60",
    # Cervical carcinoma
    "100,67 9,100 22,100 0,76 0,43 54,79 72,49 74,45 68,7 65,7 63,61 58,62 60,55 62,35 60,32 5,6 9,2 22,3 "
    "37,0 40,2 2,30 3,20 4,50 5,36 6,26 7,58 8,42 9,14 10,32 11,66 11,50 12,22 13,40 14,30 14,84 15,56 "
    "16,46 16,12 17,34 18,62 18,26 19,48 20,38 20,90 21,54 22,30 22,70 23,44 24,18 24,60 25,36 26,50 26,80 "
    "27,28 27,42 28,56 29,34 29,72 30,46 30,20 31,38 32,62 32,26 33,50 34,32 34,86 35,44 36,24 36,56 37,38 "
    "38,66 38,16 39,30 40,46 41,36 42,52 42,22 43,60 44,30 45,40 46,18 47,48 48,34 49,26 50,44 51,12 52,36 "
    "53,28 55,40 56,18 57,30 59,22 44,74 40,78 16,70 12,74 20,8 30,6 42,8 18,50 22,46 26,40 30,36 24,30 "
    "28,48 20,42 32,44 "
    "16,38 18,44 19,34 20,50 21,42 22,36 23,48 24,40 25,32 26,44 27,36 28,50 29,40 30,30 31,44 32,36 33,42 "
    "34,28 35,50 36,34 37,44 38,40 20,30 24,28 28,34 19,54 23,52 27,46",
    # Cholangiocarcinoma
    "0,8 20,60 27,73 30,60 27,26 28,28 40,50 40,42 39,32 45,100 45,29 43,16 56,56 59,10 60,29 62,35 67,32 "
    "71,28 78,41 79,35 77,26 80,15 83,28 85,18 88,26 89,16 91,18 93,11 95,25 97,18 98,5 98,0 98,16 100,39 "
    "100,31 97,20",
    # Colorectal adenocarcinoma
    "100,62 98,36 92,44 87,29 85,16 82,26 80,63 75,28 72,30 69,69 62,75 58,76 65,38 63,41 60,30 55,42 52,42 "
    "50,32 55,25 47,27 83,7 10,100 10,84 15,79 17,78 32,76 39,0 23,0 0,38 1,56 2,46 3,30 4,64 5,40 6,52 "
    "7,34 8,70 8,44 9,26 10,58 11,38 12,48 12,20 13,32 14,62 15,42 15,26 16,36 17,52 18,30 18,44 19,22 "
    "20,38 20,58 21,28 22,46 22,34 23,16 24,40 24,26 25,32 26,50 26,20 27,38 28,28 28,44 29,14 30,34 30,24 "
    "31,40 32,28 32,18 33,36 34,30 34,46 35,22 36,34 37,26 38,40 38,16 39,30 40,24 41,36 42,28 43,20 44,32 "
    "45,40 46,24 9,10 14,12 20,8 26,8 30,10 36,12 3,70 6,74 12,68 24,62 30,58 36,54 40,50 22,30 26,34 "
    "28,24 30,30 32,36 24,28 34,26 20,32 "
    "10,44 11,34 12,40 13,28 14,36 15,46 16,30 17,40 18,26 19,34 20,42 21,30 22,38 23,24 24,34 25,42 26,28 "
    "27,34 28,38 29,26 30,32 31,36 32,24 33,30 34,38 35,28 36,20 37,32 38,22 39,26 24,20 28,18 32,20 20,18 "
    "16,22 14,42 18,48 22,52 26,44 30,40 16,50 12,54 8,52 6,60 4,46",
    # Cutaneous melanoma
    "2,100 6,97 8,99 10,93 49,94 50,92 57,87 65,72 75,60 80,69 94,82 95,56 97,50 92,48 88,42 85,33 79,38 "
    "75,34 71,30 67,28 65,22 73,28 83,15 96,26 90,26 62,33 60,40 58,46 55,51 47,3 41,1 43,5 55,14 61,7 "
    "50,12 0,86 1,75 3,19 5,29 4,60 6,50 7,80 8,42 9,70 10,34 11,58 12,88 12,22 13,48 14,66 15,38 16,80 "
    "16,16 17,56 18,30 19,64 19,44 20,74 21,24 21,52 22,36 23,62 23,86 24,44 25,28 25,54 26,18 26,70 27,38 "
    "27,48 28,60 28,24 29,32 29,76 30,42 30,14 31,52 31,28 32,36 32,64 33,20 33,46 34,30 34,56 35,40 35,12 "
    "36,26 36,68 37,34 37,48 38,18 38,58 39,30 40,40 40,8 41,24 42,52 43,34 44,16 45,28 46,44 47,22 48,36 "
    "49,14 50,30 51,24 52,38 53,18 54,32 20,90 16,92 14,84 24,80 30,88 36,78 40,72 44,62 "
    "22,32 24,26 26,34 28,30 30,24 32,30 34,24 36,30 27,20 31,18 25,40 29,38 33,36 23,50 27,56 31,60",
    # Diffuse large B-cell lymphoma
    "0,86 5,59 9,86 12,75 14,84 16,83 18,72 20,68 20,84 20,97 24,88 25,84 27,91 29,87 29,83 30,65 32,80 "
    "33,77 35,81 43,87 43,80 22,30 27,23 40,22 40,2 44,49 47,54 48,40 46,7 50,23 53,84 54,71 54,40 57,84 "
    "58,100 59,73 60,58 65,70 65,64 67,64 71,44 73,50 81,32 83,89 88,40 96,75 100,1 45,64",
    # Esophageal carcinoma
    "7,100 5,91 0,29 4,29 8,62 14,62 27,63 100,29 73,39 81,31 81,20 70,11 69,2 56,2 33,6 39,11 6,40 8,52 "
    "9,34 10,46 12,28 13,40 14,56 15,32 16,22 17,44 18,36 19,30 20,50 21,26 22,42 23,34 24,18 25,48 26,30 "
    "27,38 28,24 29,44 30,34 31,56 31,14 32,28 33,40 34,22 35,36 36,46 36,30 37,16 38,26 39,38 40,32 40,52 "
    "41,20 42,30 43,24 44,40 45,14 46,28 47,34 48,22 49,42 50,30 51,18 52,26 53,36 54,12 55,24 56,32 57,20 "
    "58,14 59,28 60,22 62,16 63,26 64,20 66,12 67,24 68,18 38,58 42,54 46,58 50,60 34,62 26,52 18,50 22,60 "
    "44,8 52,6",
    # Gastric adenocarcinoma
    "17,100 10,91 13,91 19,93 33,91 40,91 44,88 55,93 66,79 82,66 0,62 3,73 23,4 73,1 87,7 93,8 100,17 "
    "95,25 91,38 74,50 1,50 4,54 5,40 6,28 7,66 8,50 9,32 10,60 11,44 12,24 13,70 14,50 15,36 16,62 17,46 "
    "18,28 18,76 19,54 20,40 21,66 22,48 22,24 23,58 24,36 25,74 25,46 26,30 27,54 28,42 29,64 30,34 30,50 "
    "31,22 32,44 33,56 34,38 35,28 36,48 36,60 37,32 38,42 39,20 40,52 41,36 42,28 43,46 44,58 45,34 46,24 "
    "47,40 48,50 49,30 50,18 51,38 52,26 53,46 54,34 55,20 56,42 57,30 58,14 59,36 60,26 61,46 62,20 64,34 "
    "65,28 66,16 67,40 68,24 70,30 71,18 72,36 74,22 76,28 78,14 80,26 82,20 84,32 86,12 88,24 90,36 14,82 "
    "18,86 24,84 28,76 34,72 40,78 46,70 50,66 8,74 4,80 "
    "20,48 22,44 24,50 26,46 21,52 25,54 23,46 27,48 38,40 40,36 42,42 44,38 46,40 48,34",
    # Glioblastoma multiforme
    "39,100 27,91 41,73 2,71 6,69 100,53 94,19 67,0 49,6 62,17 62,14 52,25 55,32 63,40 66,46 60,46 45,47 "
    "44,55 35,58 32,55 0,48 1,40 2,30 3,58 4,36 5,22 6,44 7,50 8,28 9,40 10,60 10,18 11,34 12,46 13,26 "
    "14,52 14,38 15,30 16,58 16,20 17,42 18,34 18,14 19,48 20,28 20,40 21,36 22,56 22,22 23,32 24,44 25,18 "
    "25,38 26,30 27,48 28,24 29,36 30,42 30,16 31,30 32,38 33,46 34,26 35,34 36,20 37,40 38,30 39,36 40,24 "
    "41,44 42,32 44,20 46,28 48,38 50,30 12,14 16,12 20,8 28,12 10,70 14,64 6,56 8,62",
    # Hepatocellular carcinoma
    "2,100 14,94 28,95 15,82 18,80 65,83 60,66 3,58 0,50 100,50 77,31 85,27 71,5 83,3 25,0 1,40 2,32 3,24 "
    "4,46 5,16 6,36 7,28 8,52 9,20 10,40 11,30 12,14 12,58 13,24 14,44 15,34 16,18 16,64 17,28 18,40 19,22 "
    "19,54 20,32 21,12 21,46 22,26 23,36 24,18 24,62 25,30 26,22 26,44 27,14 27,34 28,26 28,52 29,20 30,30 "
    "30,10 31,40 32,22 32,66 33,14 33,32 34,26 35,46 35,18 36,30 37,38 37,10 38,22 39,56 40,28 41,16 41,44 "
    "42,24 43,34 44,12 45,28 46,40 47,20 48,30 49,14 50,24 52,36 54,18 55,28 56,46 58,22 40,66 36,60 30,60 "
    "22,68 10,72 8,64 6,42 24,24 26,20 28,18 30,22 22,20 27,28 32,26 25,16 "
    "21,24 23,16 25,26 27,18 29,24 31,16 33,22 35,24 37,18 30,14 26,12 34,12",
    # HNSCC
    "15,100 20,97 38,95 27,86 66,65 67,67 80,60 85,60 100,27 85,27 80,22 73,14 64,37 58,38 50,0 48,3 28,3 "
    "20,8 0,47 0,55 2,62 3,74 4,40 5,84 6,52 7,66 8,30 9,58 10,76 10,44 11,86 12,36 13,64 13,52 14,24 15,72 "
    "15,44 16,58 17,32 17,82 18,50 19,40 20,66 20,22 21,46 22,56 22,30 23,74 24,38 24,48 25,60 26,26 26,42 "
    "27,52 28,34 28,68 29,44 30,18 30,56 31,38 32,28 32,62 33,46 34,34 34,22 35,52 36,40 36,12 37,30 38,58 "
    "38,44 39,24 40,36 41,48 42,28 42,16 43,40 44,32 45,20 46,44 47,28 48,36 49,12 50,24 51,32 52,18 53,40 "
    "55,26 56,34 58,20 60,28 40,70 44,62 48,56 52,50 35,76 30,80 24,84 12,20 8,16 16,14 60,12 26,36 28,40 "
    "30,32 32,38 24,32 34,42 "
    "18,36 19,44 20,32 21,40 22,36 23,50 24,28 25,42 26,34 27,46 28,30 29,38 30,28 31,46 32,40 33,34 34,44 "
    "35,30 36,36 37,42 38,26 39,34 40,42 41,30 42,36 43,28 44,40 45,32 27,24 31,20 35,22 22,44 26,56 30,48 "
    "34,52",
    # Lower grade glioma
    "8,100 2,90 0,69 9,72 11,72 15,72 32,67 48,62 40,62 60,51 65,47 72,42 52,51 58,36 60,27 100,22 52,41 "
    "15,4 20,7 0,40 1,30 2,22 3,36 4,28 4,46 5,18 5,32 6,40 6,24 7,30 7,52 8,20 8,36 9,26 9,44 10,32 10,16 "
    "11,24 11,38 12,28 12,48 13,20 13,34 14,26 14,42 15,30 15,14 16,36 16,22 17,28 17,46 18,32 18,18 19,24 "
    "19,40 20,30 20,12 21,36 21,22 22,28 22,50 23,34 24,20 24,42 25,28 26,36 26,16 27,24 28,32 28,44 29,20 "
    "30,28 31,36 32,22 33,30 34,40 35,26 36,34 38,22 40,30 42,38 44,24 46,32 18,58 14,56 10,60 22,62 26,56 "
    "30,52 6,12 10,10 14,8 2,12 10,26 12,24 14,30 16,26 8,28 12,32 14,22 10,22 16,32 18,26 "
    "5,24 6,30 6,20 7,26 7,34 8,22 8,28 9,30 9,20 10,24 10,28 10,34 11,26 11,20 11,32 12,22 12,26 12,36 "
    "13,28 13,24 13,30 14,20 14,32 15,26 15,22 15,34 16,28 16,24 17,20 17,30 18,28 18,22 18,36 19,30 19,26 "
    "20,20 20,34 21,28 22,24 22,32 23,26 24,30 7,18 9,16 11,18 13,16 15,18 17,16 19,18 6,36 8,40 10,38 "
    "12,40 14,38 16,40 18,42 20,40 4,32 5,38 3,26 "
    "7,24 8,26 8,32 9,22 9,28 10,30 11,28 11,34 12,30 13,22 13,26 14,24 14,28 15,24 15,32 16,30 17,26 17,24 "
    "18,24 19,28 12,20 10,20 16,20 14,34",
    # Lung adenocarcinoma
    "27,100 28,97 14,94 5,90 7,89 98,53 100,45 100,25 90,25 87,22 80,28 75,10 70,5 67,7 55,5 50,15 0,28 "
    "1,55 2,64 3,44 4,80 5,36 6,56 7,70 8,48 9,30 10,62 11,40 12,82 12,52 13,34 14,66 15,46 16,24 17,58 "
    "18,38 18,76 19,50 20,30 21,62 22,42 22,86 23,54 24,34 25,70 25,22 26,46 27,38 28,58 28,28 29,48 30,36 "
    "30,74 31,62 32,26 32,44 33,52 34,30 34,66 35,40 36,20 36,56 37,34 38,46 39,26 40,60 40,38 41,30 42,48 "
    "43,22 44,40 44,70 45,32 46,54 47,26 48,42 49,18 50,36 51,50 52,28 53,40 54,22 55,62 56,34 57,26 58,44 "
    "59,18 60,30 62,38 63,24 64,52 66,32 67,20 68,42 70,26 72,36 74,18 76,30 78,24 80,40 82,32 85,20 88,34 "
    "92,28 20,44 22,50 24,46 26,40 28,36 30,32 32,34 34,28 24,38 28,44 12,56 16,52",
    # Ovarian carcinoma
    "0,45 2,53 3,50 8,56 7,65 13,82 14,50 16,34 18,80 20,84 22,73 22,94 23,96 27,100 30,98 31,95 29,85 "
    "25,65 28,56 29,23 54,85 69,82 86,79 100,60 80,54 84,25 86,24 83,9 88,9 73,14 71,3 66,9 42,8 60,9 50,15 "
    "49,20 30,44 32,60 33,36 34,52 35,68 36,46 37,58 38,30 38,72 39,50 40,40 40,62 41,54 42,34 42,74 43,46 "
    "44,58 44,26 45,50 46,40 46,66 47,56 48,32 48,48 49,44 50,60 50,36 51,52 52,28 52,68 53,46 54,40 54,56 "
    "55,34 56,62 56,48 57,22 58,42 58,72 59,54 60,38 60,64 61,30 62,48 63,58 64,40 64,24 65,52 66,34 67,44 "
    "68,60 68,28 69,38 70,50 72,32 73,44 74,22 75,54 76,36 78,30 80,42 82,34 45,74 40,76 50,78 58,68 62,70 "
    "34,28 26,40 24,50 20,54 10,60 40,52 42,56 44,50 46,46 48,54 50,44 52,50 54,46 56,40 58,36",
    # Pancreatic carcinoma
    "2,100 2,91 3,90 2,85 6,80 5,78 13,78 4,70 9,67 12,66 20,68 2,60 3,59 1,58 9,62 14,56 13,51 11,49 23,51 "
    "35,68 38,56 38,54 3,42 6,41 9,44 10,43 12,44 1,36 3,35 4,35 7,39 10,38 12,35 14,35 19,40 20,35 15,31 "
    "20,32 7,28 10,27 13,25 15,24 6,24 3,15 4,14 9,14 11,21 14,18 17,20 19,21 21,19 23,17 25,16 20,12 22,9 "
    "27,12 29,10 33,8 18,1 33,30 36,11 41,17 44,17 46,37 49,6 56,20 63,32 62,5 100,25 25,27 24,33 16,46 "
    "9,54 5,32 8,30 11,28 13,30 16,26 18,24 6,36 8,46",
    # Prostate carcinoma
    "15,100 9,86 16,79 17,78 8,78 0,76 4,68 68,76 64,65 68,62 72,61 75,61 91,60 100,55 94,45 87,42 82,38 "
    "74,38 74,30 72,31 86,29 83,16 83,13 85,2 44,7 62,3 55,12 35,14 0,30 1,22 2,36 3,28 4,44 5,26 5,34 6,20 "
    "7,30 7,40 8,24 9,32 9,48 10,28 10,20 11,36 11,26 12,30 12,42 13,22 13,34 14,28 14,50 15,24 15,38 16,30 "
    "16,20 17,34 17,44 18,26 18,32 19,38 19,22 20,30 20,46 21,26 22,34 22,20 23,30 24,40 24,24 25,28 26,36 "
    "26,18 27,32 28,26 29,38 30,22 30,50 31,30 32,36 33,24 34,44 35,30 36,22 37,40 38,28 39,34 40,20 41,46 "
    "42,30 43,38 44,24 45,50 46,32 47,26 48,40 49,30 50,22 52,36 53,28 54,46 55,34 56,24 57,42 58,30 60,20 "
    "62,36 64,28 66,18 68,34 70,26 14,60 20,58 24,54 30,56 18,14 10,14 26,12 40,14 6,30 8,28 10,32 12,26 "
    "14,32 16,28 18,30 20,26 22,28 24,32 "
    "3,32 4,24 5,30 6,36 6,26 7,22 8,34 8,28 9,24 9,36 10,30 11,22 11,32 12,28 12,36 13,30 13,26 14,22 "
    "14,34 15,30 15,28 16,24 16,36 17,28 17,22 18,34 19,28 19,30 20,24 20,34 21,30 22,24 22,38 23,26 24,34 "
    "25,22 25,30 26,28 27,34 28,24 29,30 30,26 32,32 34,28 36,34 38,24 40,30 42,26 44,34 46,26",
    # Renal chromophobe carcinoma
    "0,59 8,58 10,64 13,55 11,35 15,30 27,38 40,100 40,54 46,57 49,92 49,84 52,28 53,67 54,67 55,90 53,76 "
    "56,64 58,59 58,54 59,49 62,85 63,57 65,56 65,39 66,34 67,80 68,37 69,63 69,65 70,53 69,43 73,41 73,75 "
    "75,75 72,30 72,23 74,52 78,17 79,48 80,63 81,24 82,68 83,33 84,23 87,48 90,65 94,23 96,71 97,98 98,50 "
    "99,69 100,0 61,47 64,64 58,73 44,62 49,50 70,50 47,48 60,44 52,60 77,58 66,70 57,33 86,56",
    # Renal clear cell carcinoma
    "100,37 94,50 95,55 56,12 48,62 43,60 48,30 47,26 42,20 42,0 40,12 36,12 30,12 27,13 33,13 30,28 27,38 "
    "28,65 25,60 27,75 20,5 6,10 1,40 2,56 2,28 3,76 3,44 4,92 4,34 5,62 5,50 6,82 6,24 6,40 7,70 7,56 8,98 "
    "8,30 8,46 9,64 9,36 9,86 10,52 10,20 10,74 11,42 11,60 11,30 12,94 12,50 12,68 13,36 13,80 13,56 14,26 "
    "14,44 14,64 15,72 15,38 15,52 16,84 16,30 16,60 17,46 17,66 17,22 18,54 18,40 18,78 19,34 19,60 20,48 "
    "20,26 20,70 21,44 22,56 22,36 23,52 24,30 24,42 25,50 26,38 9,18 11,14 14,16 5,16 18,16 7,44 9,50 "
    "11,48 13,42 15,46 8,40 10,36 12,40 14,50 16,42 "
    "4,50 5,42 5,70 6,56 6,34 7,48 7,62 7,80 8,38 8,54 8,72 9,42 9,58 9,30 10,46 10,64 10,84 11,36 11,54 "
    "11,70 12,44 12,58 12,32 13,48 13,62 13,76 14,40 14,54 14,30 15,48 15,60 15,88 16,42 16,52 16,68 17,36 "
    "17,56 18,48 18,62 19,40 19,52 20,44 20,56 6,64 8,88 10,92 12,86 14,80 16,74 5,28 7,26 9,24 11,22 13,20 "
    "15,28 17,26 6,46 8,60 10,40 12,48 14,36 16,56 9,66 11,58 13,44 7,38",
    # Renal papillary cell carcinoma
    "17,100 17,95 22,77 5,60 17,61 22,62 46,64 58,59 64,66 62,55 55,50 82,36 87,28 100,29 76,29 68,12 0,27 "
    "0,22 30,3 2,18 3,30 4,14 5,24 6,36 7,20 8,28 9,12 10,34 11,22 12,44 12,16 13,28 14,38 14,10 15,24 "
    "16,32 16,46 17,18 18,28 18,40 19,22 19,8 20,34 20,48 21,16 21,26 22,38 22,20 23,30 23,44 24,12 24,24 "
    "25,34 25,18 26,28 26,42 27,22 27,6 28,32 28,16 29,26 29,38 30,20 31,30 31,12 32,24 33,36 34,18 34,28 "
    "35,8 36,22 37,32 38,16 39,26 40,20 41,30 42,14 43,24 44,34 45,18 46,26 47,12 48,22 50,30 52,18 54,24 "
    "56,14 58,26 60,20 62,12 64,30 66,18 70,24 72,14 12,54 14,50 26,56 36,46 30,52 44,42 "
    "20,22 22,26 24,20 26,24 28,20 21,30 25,28 23,18",
    # Thyroid carcinoma
    "0,92 3,85 17,97 19,100 36,100 28,73 36,59 100,75 67,50 59,47 54,46 47,40 79,35 57,30 51,29 58,32 63,23 "
    "72,17 78,17 90,12 65,4 81,0 58,16 51,13 1,40 2,26 3,52 3,16 4,34 4,62 5,22 5,44 6,30 6,70 7,12 7,38 "
    "7,56 8,24 8,76 9,32 9,48 10,18 10,28 10,66 11,36 11,22 12,54 12,30 12,8 13,26 13,42 13,74 14,20 14,34 "
    "15,28 15,58 16,22 16,38 17,14 17,30 17,64 18,26 18,46 19,20 19,34 20,28 20,10 21,24 21,52 22,32 22,16 "
    "23,26 24,36 24,20 25,44 26,28 26,14 27,22 28,34 29,18 30,26 31,32 32,14 33,24 35,30 37,20 40,26 43,18 "
    "45,32 48,22 12,90 8,84 10,80 14,80 22,70 26,66 4,6 8,4 6,24 8,30 10,24 12,20 14,26 16,30 9,26 11,28 "
    "3,22 4,28 4,18 5,30 5,24 6,20 6,34 7,26 7,16 8,22 8,32 9,18 9,28 10,22 10,32 10,14 11,26 11,18 12,24 "
    "12,34 13,20 13,28 14,16 14,30 15,22 15,26 16,18 16,32 17,24 18,20 18,30 19,16 19,26 20,22 21,30 22,18 "
    "23,22 24,28 25,16 26,24 5,38 7,42 9,40 11,44 13,38 15,42 6,48 8,56 10,50 12,60 4,44",
    # Urothelial carcinoma
    "27,100 29,100 8,98 0,82 6,75 8,70 23,90 32,91 35,92 49,86 61,93 64,81 100,23 95,21 88,24 82,24 78,10 "
    "72,7 49,2 54,8 0,57 2,40 4,30 5,48 6,22 7,36 8,54 9,16 10,44 11,28 12,62 13,36 14,20 15,48 16,30 17,58 "
    "18,14 19,40 20,26 21,50 22,34 22,70 23,20 24,44 25,30 26,56 27,38 28,24 28,66 29,46 30,16 31,34 32,52 "
    "32,28 33,40 34,60 34,20 35,30 36,46 37,36 38,24 38,70 39,54 40,32 40,14 41,42 42,28 42,62 43,36 44,20 "
    "44,50 45,30 46,42 47,24 48,36 48,56 49,16 50,30 51,46 52,22 53,38 54,28 55,52 56,18 57,34 58,42 59,26 "
    "60,14 61,36 62,24 63,48 64,30 65,16 66,38 67,22 68,30 70,18 72,26 74,34 76,20 80,28 84,22 38,82 44,76 "
    "50,72 56,68 20,72 14,66 36,30 38,34 40,26 42,32 44,28 46,34 48,30 50,26 52,32 41,22",
    # Uveal melanoma
    "0,8 1,15 2,0 4,12 3,74 5,64 7,68 4,22 6,23 5,7 10,24 11,8 13,7 12,23 13,74 13,92 13,41 15,38 16,60 "
    "17,23 18,62 19,81 4,100 23,62 21,29 22,26 25,1 29,33 30,7 32,42 34,41 35,30 36,23 38,16 40,45 39,23 "
    "41,37 43,13 42,56 44,20 47,44 47,31 49,38 50,20 52,54 53,46 54,29 59,35 59,20 64,34 65,10 71,34 72,10 "
    "74,40 74,21 78,65 80,33 86,23 100,15 30,4 34,16 24,37 33,23 16,16 10,16 51,37 46,8 79,20 62,29 29,20 "
    "40,29 21,21 5,29 9,39",
]

tick_values = [0.0, 0.25, 0.50, 0.75, 1.0]
tick_labels = ["0.00", "0.25", "0.50", "0.75", "1.00"]
source_titles = ["GEO", "TCGA"]

# ---------------------------------------------------------------------------
# Style
# ---------------------------------------------------------------------------
sns.set_theme(style="ticks")
plt.rcParams["font.family"] = ["Liberation Sans", "DejaVu Sans"]
plt.rcParams["mathtext.fontset"] = "custom"
plt.rcParams["mathtext.rm"] = "Liberation Sans:bold"
plt.rcParams["mathtext.bf"] = "Liberation Sans:bold"
plt.rcParams["mathtext.it"] = "Liberation Sans:italic:bold"

W, H = 1475, 1820
fig = plt.figure(figsize=(W / 100, H / 100), dpi=100)
fig.patch.set_facecolor("white")

col_left = [86, 309, 532, 822, 1045, 1268]
ax_w, ax_h = 188, 134
row_top0, row_step = 67.2, 195.3


def to_frame(s):
    xs, ys = [], []
    for tok in s.split():
        a, b = tok.split(",")
        xs.append(int(a) / 100)
        ys.append(int(b) / 100)
    return pd.DataFrame({"CNA burden": xs, "Immune metric": ys})


def stats_label(n, r, p):
    if "10^" in p:
        mant, ex = p.split("10^")
        p = mant + "$10^{" + ex + "}$"
    return "$n$ = " + n + ", $r$ = " + r + "  $P$ = " + p


def add_rect(x0, y0, x1, y1):
    fig.add_artist(Rectangle((x0 / W, 1 - y1 / H), (x1 - x0) / W, (y1 - y0) / H,
                             transform=fig.transFigure, facecolor="black",
                             edgecolor="none"))


groups = [(geo_n, geo_r, geo_p, geo_points), (tcga_n, tcga_r, tcga_p, tcga_points)]

for g, (ns, rs, ps, pts) in enumerate(groups):
    for i, name in enumerate(cancer_types):
        row, col = divmod(i, 3)
        left = col_left[g * 3 + col]
        top = row_top0 + row * row_step
        ax = fig.add_axes([left / W, 1 - (top + ax_h) / H, ax_w / W, ax_h / H])
        df = to_frame(pts[i])
        sns.scatterplot(data=df, x="CNA burden", y="Immune metric", ax=ax,
                        color=palette[i], s=7.5, alpha=0.65, linewidth=0, legend=False)
        ax.set_xlim(-0.05, 1.05)
        ax.set_ylim(-0.05, 1.05)
        ax.set_xticks(tick_values)
        ax.set_xticklabels(tick_labels)
        ax.set_yticks(tick_values)
        ax.set_yticklabels(tick_labels)
        ax.set_xlabel("")
        ax.set_ylabel("")
        ax.set_facecolor("white")
        sns.despine(ax=ax)
        for side in ("left", "bottom"):
            ax.spines[side].set_linewidth(1.25)
            ax.spines[side].set_color("black")
        ax.tick_params(axis="both", length=3, width=0.9, color="#333333",
                       labelsize=7, labelcolor="#555555", pad=2.2)
        ax.annotate(name, xy=(0.5, 1.0), xycoords="axes fraction",
                    xytext=(0, 14.0), textcoords="offset points",
                    ha="center", va="baseline", fontsize=7.8,
                    fontweight="bold", color="#222222")
        ax.annotate(stats_label(ns[i], rs[i], ps[i]), xy=(0.5, 1.0),
                    xycoords="axes fraction", xytext=(0, 6.2),
                    textcoords="offset points", ha="center", va="baseline",
                    fontsize=7.8, fontweight="bold", color="#222222")

# Group headers and shared axis titles
fig.text(402 / W, 1 - 17 / H, source_titles[0], ha="center", va="center",
         fontsize=11.7, fontweight="bold", color="black")
fig.text(1142 / W, 1 - 17 / H, source_titles[1], ha="center", va="center",
         fontsize=11.7, fontweight="bold", color="black")
fig.text(16 / W, 1 - 914 / H, "Immune metric", ha="center", va="center",
         rotation=90, fontsize=11.6, fontweight="bold", color="black")
fig.text(770 / W, 1 - 1812 / H, "CNA burden", ha="center", va="center",
         fontsize=11.7, fontweight="bold", color="black")

# Heavy bars framing the two panel groups
add_rect(32, 66, 38, 1763)
add_rect(753, 66, 759, 1763)
add_rect(86, 1791, 1454, 1797)

fig.savefig("out.png", dpi=100, facecolor="white")
